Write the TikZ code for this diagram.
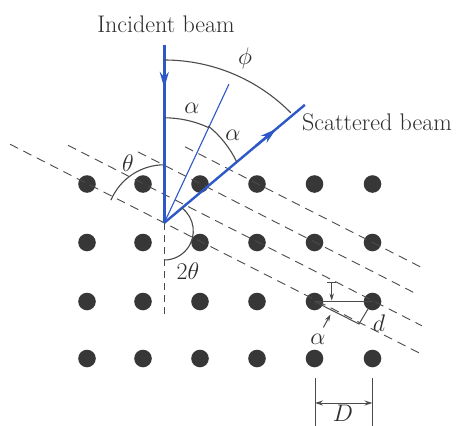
\RequirePackage{fix-cm}
\documentclass[tikz,border=0pt]{standalone}
\usetikzlibrary{arrows.meta,calc}
\definecolor{beamblue}{RGB}{45,88,200}
\definecolor{ink}{RGB}{75,75,75}
\definecolor{dotcol}{RGB}{55,55,55}
\definecolor{txt}{RGB}{45,45,45}
\begin{document}
\begin{tikzpicture}[x=1pt,y=1pt,
  every node/.style={font=\fontsize{24}{29}\selectfont, inner sep=0pt, text=txt},
  atom/.style={circle,fill=dotcol,minimum size=17.6pt,inner sep=0pt},
  plane/.style={draw=ink,line width=0.9pt,dash pattern=on 9pt off 6pt},
  vplane/.style={draw=ink,line width=0.9pt,dash pattern=on 7pt off 5pt},
  beam/.style={draw=beamblue,line width=2.4pt},
  thinbeam/.style={draw=beamblue,line width=1.1pt},
  anglearc/.style={draw=ink,line width=1.1pt},
  beamtip/.style={-{Stealth[length=16pt,width=9pt]}},
  dim/.style={draw=ink,line width=1pt},
  smalltip/.style={-{Stealth[length=7pt,width=4.5pt]}}]
\useasboundingbox[fill=white] (0,0) rectangle (467,-426);

% atoms
\foreach \c/\x in {1/87,2/143,3/200,4/257,5/314.5,6/372.5}
  \foreach \r/\y in {1/184,2/242.5,3/301.5,4/358.5}
    \node[atom] (a\c\r) at (\x,-\y) {};

% key points
\coordinate (O) at (164.3,-222.8);
\coordinate (Itop) at (164.3,-45);
\coordinate (Iarr) at (164.3,-88);
\coordinate (Iarrs) at (164.3,-60);
\coordinate (Sarr) at ($(O)+(40:146)$);
\coordinate (Sarrs) at ($(O)+(40:120)$);
\coordinate (Send) at ($(O)+(40:183.5)$);
\coordinate (Bend) at ($(O)+(65:153)$);
\coordinate (Vbot) at (164.3,-318);

% lattice planes
\coordinate (A1) at (10,-144.2);  \coordinate (A2) at (423,-354.9);
\coordinate (B1) at (68,-145.3);  \coordinate (B2) at (422,-325.8);
\coordinate (C1) at (138,-151.9); \coordinate (C2) at (418,-294.7);
\coordinate (D1) at (185,-146.8); \coordinate (D2) at (423,-268.2);
\draw[plane] (A1) -- (A2);
\draw[plane] (B1) -- (B2);
\draw[plane] (C1) -- (C2);
\draw[plane] (D1) -- (D2);
\draw[vplane] (O) -- (Vbot);

% beams
\draw[beam] (Itop) -- (O);
\draw[beam,beamtip] (Iarrs) -- (Iarr);
\draw[beam] (O) -- (Send);
\draw[beam,beamtip] (Sarrs) -- (Sarr);
\draw[thinbeam] (O) -- (Bend);

% angle arcs
\coordinate (Cphi) at (164.3,-238);
\draw[anglearc] ($(Cphi)+(90:178)$) arc[start angle=90,end angle=44.7,radius=178];
\draw[anglearc] ($(O)+(90:105)$) arc[start angle=90,end angle=65,radius=105];
\coordinate (Ca2) at (144.3,-206);
\draw[anglearc] ($(Ca2)+(51.3:102.4)$) arc[start angle=51.3,end angle=25.6,radius=102.4];
\draw[anglearc] ($(O)+(90:58)$) arc[start angle=90,end angle=157,radius=58];
\coordinate (C2t) at (164.3,-231);
\draw[anglearc] ($(C2t)+(52.5:29)$) arc[start angle=52.5,end angle=-90,radius=29];

% d construction
\coordinate (F) at (359,-324);
\draw[dim] (a53.center) -- (a63.center);
\draw[dim] (a53.center) -- (F) -- (a63);
\coordinate (m1) at (331.7,-281.5);
\coordinate (m2) at (331.7,-300.5);
\draw[dim,{Bar[width=9pt]}-{Stealth[length=7pt,width=4.5pt]}] (m1) -- (m2);
\coordinate (n1) at (323.3,-327.5);
\coordinate (n2) at (330.5,-314.5);
\draw[dim,smalltip] (n1) -- (n2);

% D dimension
\coordinate (L1) at (315,-378);   \coordinate (L2) at (315,-430);
\coordinate (R1) at (372.5,-378); \coordinate (R2) at (372.5,-430);
\draw[dim] (L1) -- (L2);
\draw[dim] (R1) -- (R2);
\coordinate (Dl) at (315,-403);
\coordinate (Dr) at (372.5,-403);
\draw[dim,{Stealth[length=8pt,width=5pt]}-{Stealth[length=8pt,width=5pt]}] (Dl) -- (Dr);

% labels
\node[anchor=base] (tinc) at (166,-32.3) {Incident beam};
\node[anchor=base west] (tsc) at (302,-130) {Scattered beam};
\node (lphi) at (245,-58) {$\phi$};
\node (la1) at (192,-108) {$\alpha$};
\node (la2) at (233,-135) {$\alpha$};
\node (lth) at (128,-163) {$\theta$};
\node (l2th) at (188,-271) {$2\theta$};
\node (la3) at (318,-339) {$\alpha$};
\node (ld) at (379,-323) {$d$};
\node (lD) at (343,-413) {$D$};
\end{tikzpicture}
\end{document}
